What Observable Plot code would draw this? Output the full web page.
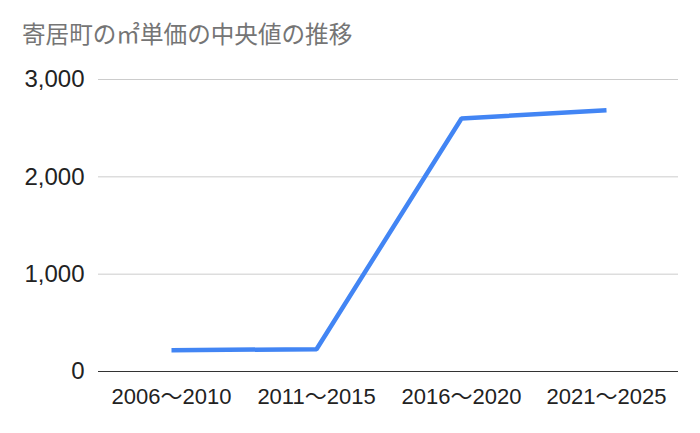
<!DOCTYPE html>
<html><head><meta charset="utf-8">
<script src="https://cdn.jsdelivr.net/npm/d3@7"></script>
<script src="https://cdn.jsdelivr.net/npm/@observablehq/plot@0.6"></script>
<style>
html,body{margin:0;padding:0;background:#fff;}
#wrap{position:relative;width:700px;height:433px;}
#title{position:absolute;left:22px;top:22px;font-family:"Noto Sans CJK JP","Noto Sans",sans-serif;font-size:23.6px;color:#757575;white-space:nowrap;line-height:1;}
</style>
</head><body>
<div id="wrap"><div id="title">寄居町の㎡単価の中央値の推移</div></div>
<script>
const periods = ["2006～2010", "2011～2015", "2016～2020", "2021～2025"];
const medianPrice = [219, 229, 2600, 2685];
const yTicks = [0, 1000, 2000, 3000];

const data = periods.map((p, i) => ({period: p, value: medianPrice[i]}));

const chart = Plot.plot({
  width: 700,
  height: 433,
  marginLeft: 98,
  marginRight: 22,
  marginTop: 79,
  marginBottom: 62,
  style: {fontFamily: "'Liberation Sans', Arial, 'Noto Sans CJK JP', sans-serif", background: "#fff", color: "#222"},
  x: {type: "point", domain: periods, padding: 0.5, label: null},
  y: {domain: [0, 3000], ticks: yTicks, label: null},
  marks: [
    Plot.gridY(yTicks.filter(d => d > 0), {stroke: "#cccccc", strokeOpacity: 1, strokeWidth: 1}),
    Plot.ruleY([0], {stroke: "#333333", strokeWidth: 1}),
    Plot.axisY({ticks: yTicks, tickSize: 0, tickPadding: 14, tickFormat: d => d3.format(",")(d), fontSize: 24, label: null}),
    Plot.axisX({tickSize: 0, tickPadding: 17, fontSize: 22, label: null}),
    Plot.line(data, {x: "period", y: "value", stroke: "#4285F4", strokeWidth: 4.5, strokeLinecap: "butt", strokeLinejoin: "miter"})
  ]
});
document.getElementById("wrap").appendChild(chart);
chart.style.position = "absolute";
chart.style.left = "0";
chart.style.top = "0";
document.getElementById("wrap").appendChild(document.getElementById("title"));
</script>
</body></html>
